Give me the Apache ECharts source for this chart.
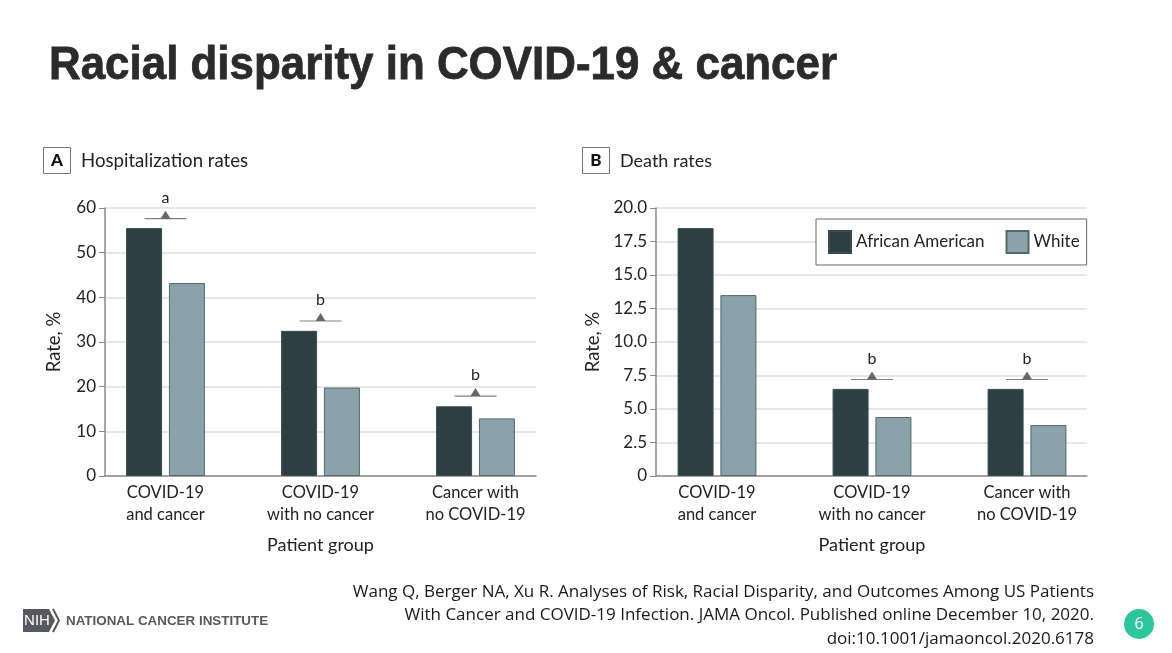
<!DOCTYPE html>
<html>
<head>
<meta charset="utf-8">
<style>html,body{margin:0;padding:0;background:#fff}#c{width:1172px;height:653px}</style>
<script src="https://cdn.jsdelivr.net/npm/echarts@6/dist/echarts.min.js"></script>
</head>
<body>
<div id="c"></div>
<script>
const categories = ['COVID-19\nand cancer', 'COVID-19\nwith no cancer', 'Cancer with\nno COVID-19'];
const hospitalAfricanAmerican = [55.5, 32.5, 15.6];
const hospitalWhite = [43.2, 19.8, 12.9];
const deathAfricanAmerican = [18.5, 6.5, 6.5];
const deathWhite = [13.5, 4.4, 3.8];
const hospitalNotes = [[0, 57.6, 'a'], [1, 34.7, 'b'], [2, 17.9, 'b']];
const deathNotes = [[1, 7.2, 'b'], [2, 7.2, 'b']];
const citation = ['Wang Q, Berger NA, Xu R. Analyses of Risk, Racial Disparity, and Outcomes Among US Patients',
  'With Cancer and COVID-19 Infection. JAMA Oncol. Published online December 10, 2020.',
  'doi:10.1001/jamaoncol.2020.6178'];

const DARK = '#2e3e45', LIGHT = '#8aa3aa', FONT = 'Lato', INK = '#222';
const chart = echarts.init(document.getElementById('c'), null, {renderer: 'canvas'});

function axisPair(axisGrid, bandGrid) {
  return [
    {gridIndex: axisGrid, type: 'category', data: [''], axisLabel: {show: false}, axisTick: {show: false},
     axisLine: {show: true, lineStyle: {color: '#8a8a8a', width: 1.5}}},
    {gridIndex: bandGrid, type: 'category', data: categories, axisLine: {show: false}, axisTick: {show: false},
     axisLabel: {color: INK, fontFamily: FONT, fontSize: 16.5, lineHeight: 22, margin: 6, interval: 0},
     name: 'Patient group', nameLocation: 'middle', nameGap: 60,
     nameTextStyle: {color: INK, fontFamily: FONT, fontSize: 18}}
  ];
}
function yPair(axisGrid, bandGrid, max, interval, digits) {
  return [
    {gridIndex: axisGrid, type: 'value', min: 0, max, interval,
     name: 'Rate, %', nameLocation: 'middle', nameRotate: 90, nameGap: digits ? 53 : 41,
     nameTextStyle: {color: INK, fontFamily: FONT, fontSize: 18.5},
     axisLine: {show: true, lineStyle: {color: '#8a8a8a', width: 1.5}},
     axisTick: {show: true, length: 6, lineStyle: {color: '#8a8a8a'}},
     axisLabel: {color: INK, fontFamily: FONT, fontSize: 17, margin: 9,
       formatter: v => v === 0 ? '0' : v.toFixed(digits)},
     splitLine: {show: true, lineStyle: {color: '#dedede', width: 1.5}}},
    {gridIndex: bandGrid, type: 'value', min: 0, max, interval, show: false, splitLine: {show: false}}
  ];
}
function barSeries(name, values, color, border, axisIndex) {
  return {type: 'bar', name, data: values, xAxisIndex: axisIndex, yAxisIndex: axisIndex,
    barWidth: 36, barGap: '19%', itemStyle: {color, borderColor: border, borderWidth: 1}, z: 3};
}
function noteSeries(notes, axisIndex) {
  const common = {type: 'scatter', xAxisIndex: axisIndex, yAxisIndex: axisIndex, silent: true, z: 4};
  return [
    Object.assign({}, common, {name: 'bracket', data: notes.map(n => [n[0], n[1]]), symbol: 'rect',
      symbolSize: [42, 1.2], itemStyle: {color: '#808080', opacity: 1}}),
    Object.assign({}, common, {name: 'marker', data: notes.map(n => ({value: [n[0], n[1]], note: n[2]})), symbol: 'triangle',
      symbolSize: [10, 8], symbolOffset: [0, -4], itemStyle: {color: '#666', opacity: 1},
      label: {show: true, position: 'top', distance: 5, color: INK, fontFamily: FONT, fontSize: 16,
        formatter: p => p.data.note}})
  ];
}
function panelLabel(x, letter, title, size) {
  return [
    {type: 'rect', shape: {x: x + .5, y: 147.5, width: 27, height: 26}, style: {fill: '#fff', stroke: '#777', lineWidth: 1}},
    {type: 'text', x: x + 14, y: 161, style: {text: letter, fill: '#111', font: '900 17px ' + FONT, align: 'center', verticalAlign: 'middle'}},
    {type: 'text', x: x + 38, y: 161, style: {text: title, fill: INK, font: size + 'px ' + FONT, verticalAlign: 'middle'}}
  ];
}

chart.setOption({
  animation: false,
  backgroundColor: '#fff',
  tooltip: {show: false},
  grid: [
    {left: 105, width: 431, top: 208, height: 268},
    {left: 88, width: 465, top: 208, height: 268},
    {left: 656, width: 431, top: 208, height: 268},
    {left: 639.5, width: 465, top: 208, height: 268}
  ],
  xAxis: [...axisPair(0, 1), ...axisPair(2, 3)],
  yAxis: [...yPair(0, 1, 60, 10, 0), ...yPair(2, 3, 20, 2.5, 1)],
  legend: {
    data: ['African American', 'White'], left: 816, top: 219, orient: 'horizontal', icon: 'rect',
    backgroundColor: '#fff', borderColor: '#666', borderWidth: 1, padding: [11, 7, 11, 12],
    itemWidth: 22, itemHeight: 22, itemGap: 21, selectedMode: false,
    textStyle: {color: INK, fontFamily: FONT, fontSize: 17}
  },
  series: [
    barSeries('Hospital AA', hospitalAfricanAmerican, DARK, '#3b4a50', 1),
    barSeries('Hospital White', hospitalWhite, LIGHT, '#55666c', 1),
    barSeries('African American', deathAfricanAmerican, DARK, '#3b4a50', 3),
    barSeries('White', deathWhite, LIGHT, '#55666c', 3),
    ...noteSeries(hospitalNotes, 1),
    ...noteSeries(deathNotes, 3)
  ],
  graphic: [
    {type: 'text', x: 49, y: 66, scaleX: 0.934, style: {text: 'Racial disparity in COVID-19 & cancer', fill: '#2b2b2b',
      stroke: '#2b2b2b', lineWidth: 0.8, font: 'bold 47px "Liberation Sans"', verticalAlign: 'middle'}},
    ...panelLabel(43, 'A', 'Hospitalization rates', 18.6),
    ...panelLabel(582, 'B', 'Death rates', 18),
    ...citation.map((line, i) => ({type: 'text', x: 1094, y: 592 + i * 23.5,
      style: {text: line, fill: '#1a1a1a', font: '17px "Open Sans"', align: 'right', verticalAlign: 'middle'}})),
    {type: 'polygon', shape: {points: [[23, 609], [49, 609], [55, 620.5], [49, 632], [23, 632]]}, style: {fill: '#58585f'}},
    {type: 'text', x: 37, y: 621, style: {text: 'NIH', fill: '#fff', font: '15px "Liberation Sans"', align: 'center', verticalAlign: 'middle'}},
    {type: 'polyline', shape: {points: [[53, 609], [59, 620.5], [53, 632]]}, style: {fill: null, stroke: '#58585f', lineWidth: 2}},
    {type: 'text', x: 66, y: 621, style: {text: 'NATIONAL CANCER INSTITUTE', fill: '#58585f',
      font: 'bold 13.4px "Liberation Sans"', verticalAlign: 'middle'}},
    {type: 'circle', shape: {cx: 1139, cy: 624, r: 15}, style: {fill: '#2ec49c'}},
    {type: 'text', x: 1139, y: 624, style: {text: '6', fill: '#fff', font: '16px "Open Sans"', align: 'center', verticalAlign: 'middle'}}
  ]
});
</script>
</body>
</html>
